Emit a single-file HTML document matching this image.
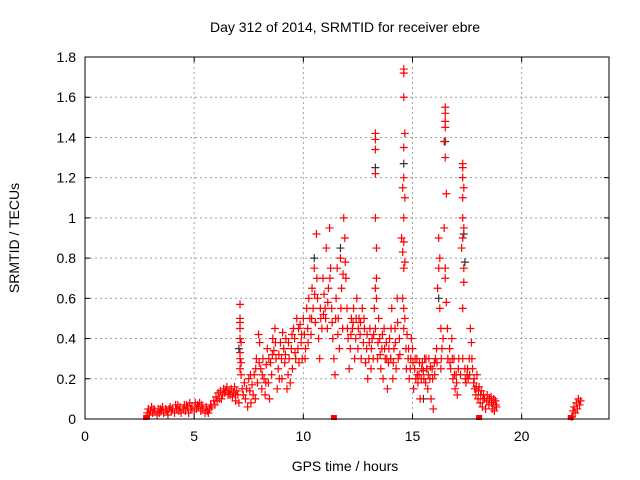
<!DOCTYPE html>
<html><head><meta charset="utf-8"><style>
html,body{margin:0;padding:0;background:#fff;}
svg{display:block;font-family:"Liberation Sans",sans-serif;}
</style></head><body>
<svg id="chart" width="640" height="480" viewBox="0 0 640 480">
<text x="345" y="32" font-size="14" text-anchor="middle" fill="#000">Day 312 of 2014, SRMTID for receiver ebre</text>
<text x="345" y="471" font-size="14" text-anchor="middle" fill="#000">GPS time / hours</text>
<text x="19" y="238" font-size="14" text-anchor="middle" fill="#000" transform="rotate(-90 19 238)">SRMTID / TECUs</text>
<g id="grid"></g><g id="marks"></g><g id="axes"></g>
</svg>
<script>
const xTicks=[0,5,10,15,20];
const yTicks=[0,0.2,0.4,0.6,0.8,1,1.2,1.4,1.6,1.8];
const redSamples=[[2.85,.03],[2.9,.05],[2.95,.02],[3.0,.04],[3.1,.03],[3.15,.05],[3.2,.04],[3.3,.02],[3.35,.05],[3.4,.03],[3.5,.04],[3.55,.06],[3.6,.03],[3.7,.05],[3.75,.04],[3.8,.02],[3.9,.06],[3.95,.04],[4.0,.05],[4.1,.03],[4.15,.07],[4.2,.05],[4.3,.04],[4.35,.06],[4.4,.03],[4.5,.05],[4.55,.07],[4.6,.04],[4.7,.06],[4.75,.03],[4.8,.08],[4.85,.05],[4.9,.06],[5.0,.04],[5.05,.08],[5.1,.05],[5.15,.07],[5.2,.06],[5.3,.04],[5.35,.07],[5.4,.05],[5.5,.03],[5.55,.06],[5.6,.04],[5.7,.05],[5.75,.07],[5.8,.06],[5.9,.09],[5.95,.07],[6.0,.11],[6.05,.09],[6.1,.13],[6.15,.1],[6.2,.14],[6.3,.12],[6.35,.15],[6.4,.13],[6.5,.16],[6.55,.12],[6.6,.14],[6.7,.15],[6.75,.11],[6.8,.13],[6.85,.16],[6.9,.09],[6.95,.14],[7.0,.12],[7.05,.08],
[7.1,.57],[7.1,.5],[7.1,.48],[7.1,.45],[7.1,.4],[7.1,.33],[7.1,.3],[7.1,.25],[7.15,.38],[7.15,.28],[7.15,.22],
[7.3,.18],[7.35,.1],[7.4,.15],[7.45,.06],[7.5,.2],[7.55,.14],[7.6,.08],[7.65,.17],[7.7,.12],[7.75,.22],[7.8,.1],[7.85,.3],[7.9,.18],[7.95,.42],[8.0,.38],[8.05,.25],[8.1,.15],[8.15,.3],[8.2,.2],[8.25,.12],[8.3,.27],[8.35,.35],[8.4,.18],[8.45,.1],[8.5,.28],[8.55,.22],[8.6,.4],[8.65,.34],[8.7,.45],[8.75,.3],[8.8,.15],[8.85,.25],[8.9,.2],[8.95,.38],[9.0,.3],[9.05,.43],[9.1,.35],[9.15,.28],[9.2,.4],[9.25,.15],[9.3,.22],[9.35,.3],[9.4,.18],[9.45,.35],[9.5,.25],[9.55,.45],[9.6,.4],[9.65,.3],[9.7,.5],[9.75,.35],[9.8,.28],[9.85,.47],[9.9,.38],[9.95,.3],[10.0,.5],[10.05,.42],[10.1,.35],[10.15,.55],[10.2,.45],[10.25,.6],[10.3,.5],[10.35,.42],[10.4,.65],[10.45,.55],[10.5,.75],[10.55,.48],[10.6,.92],[10.65,.6],[10.7,.4],[10.75,.3],[10.8,.5],[10.85,.45],[10.9,.7],[10.95,.62],[11.0,.55],[11.05,.85],[11.1,.45],[11.15,.65],[11.2,.95],[11.25,.75],[11.3,.55],[11.35,.4],[11.4,.3],[11.45,.22],[11.5,.6],[11.55,.75],[11.6,.5],[11.65,.35],[11.7,.8],[11.75,.65],[11.8,.45],[11.85,1.0],[11.9,.9],[11.95,.7],[12.0,.55],[12.05,.4],[12.1,.25],[12.15,.35],[12.2,.5],[12.25,.45],[12.3,.55],[12.35,.3],[12.4,.4],[12.45,.6],[12.5,.35],[12.55,.5],[12.6,.42],[12.65,.3],[12.7,.55],[12.75,.38],[12.8,.45],[12.85,.28],[12.9,.35],[12.95,.2],[13.0,.3],[13.05,.45],[13.1,.25],[13.15,.4],[13.2,.3],[13.25,.55],
[13.3,1.42],[13.3,1.39],[13.3,1.34],[13.3,1.22],[13.3,1.0],[13.35,.85],[13.35,.7],[13.3,.65],[13.35,.6],[13.3,.45],
[13.4,.3],[13.45,.5],[13.5,.4],[13.55,.25],[13.6,.35],[13.65,.2],[13.7,.45],[13.75,.3],[13.8,.38],[13.85,.15],[13.9,.28],[13.95,.4],[14.0,.3],[14.05,.55],[14.1,.2],[14.15,.35],[14.2,.45],[14.25,.25],[14.3,.6],[14.35,.3],[14.4,.4],
[14.6,1.74],[14.6,1.72],[14.6,1.6],[14.65,1.42],[14.6,1.35],[14.6,1.2],[14.55,1.15],[14.65,1.1],[14.6,1.0],[14.6,.88],[14.65,.78],[14.6,.75],[14.55,.6],[14.6,.55],[14.6,.45],[14.5,.9],[14.55,.83],[14.65,.5],[14.7,.35],[14.75,.42],
[14.8,.3],[14.85,.2],[14.9,.25],[14.95,.4],[15.0,.35],[15.05,.15],[15.1,.25],[15.15,.2],[15.2,.3],[15.25,.18],[15.3,.22],[15.35,.1],[15.4,.2],[15.45,.28],[15.5,.24],[15.55,.3],[15.6,.18],[15.65,.25],[15.7,.15],[15.75,.3],[15.8,.2],[15.85,.1],[15.9,.25],[15.95,.05],[16.0,.28],[16.05,.3],[16.1,.35],
[16.2,.9],[16.25,.8],[16.2,.75],[16.15,.65],[16.25,.55],[16.3,.45],[16.35,.35],[16.3,.25],
[16.5,1.55],[16.5,1.52],[16.5,1.48],[16.5,1.45],[16.45,1.38],[16.5,1.3],[16.55,1.12],[16.45,.95],[16.5,.75],[16.5,.7],[16.6,.45],[16.55,.58],
[16.7,.35],[16.75,.25],[16.8,.4],[16.85,.2],[16.9,.3],[16.95,.15],[17.0,.22],[17.05,.12],[17.1,.25],
[17.3,1.27],[17.3,1.25],[17.3,1.2],[17.35,1.15],[17.3,1.1],[17.3,1.0],[17.35,.95],[17.3,.9],[17.35,.75],[17.3,.55],[17.3,.3],[17.35,.68],[17.25,.85],
[17.4,.25],[17.45,.18],[17.5,.22],[17.55,.2],[17.6,.3],[17.65,.45],[17.7,.38],[17.75,.25],[17.8,.18],[17.85,.15],[17.9,.12],[17.95,.22],[18.0,.1],[18.05,.16],[18.1,.08],[18.15,.14],[18.2,.06],[18.25,.12],[18.3,.1],[18.35,.05],[18.4,.09],[18.5,.07],[18.6,.11],[18.65,.05],[18.7,.08],[18.75,.04],[18.8,.09],[18.85,.06],
[22.3,.01],[22.35,.04],[22.4,.06],[22.45,.03],[22.5,.08],[22.55,.05],[22.6,.1],[22.65,.07],[22.7,.09]];
const redExtra=[[3.05,.06],[3.45,.05],[3.85,.05],[4.25,.07],[4.65,.07],[5.25,.08],[5.65,.03],[6.25,.1],[6.45,.14],[6.65,.12],[6.88,.12],[7.2,.15],[7.25,.12],[7.58,.22],[7.82,.25],[7.98,.28],[8.12,.22],[8.28,.18],[8.42,.3],[8.58,.32],[8.72,.38],[8.88,.32],[9.02,.2],[9.18,.32],[9.32,.38],[9.48,.42],[9.62,.33],[9.78,.45],[9.92,.42],[10.08,.3],[10.22,.38],[10.38,.5],[10.52,.62],[10.62,.7],[10.78,.55],[10.92,.52],[11.02,.5],[11.12,.58],[11.22,.7],[11.32,.48],[11.48,.5],[11.58,.42],[11.72,.55],[11.82,.72],[11.92,.78],[12.02,.45],[12.18,.42],[12.28,.48],[12.42,.5],[12.52,.45],[12.62,.48],[12.78,.5],[12.92,.42],[13.02,.38],[13.12,.35],[13.22,.42],[13.42,.38],[13.52,.32],[13.62,.42],[13.72,.35],[13.82,.3],[13.92,.35],[14.02,.45],[14.12,.28],[14.22,.38],[14.32,.48],[14.42,.32],[14.72,.25],[14.82,.35],[14.92,.3],[15.02,.28],[15.12,.3],[15.22,.22],[15.32,.28],[15.42,.25],[15.52,.2],[15.62,.3],[15.72,.22],[15.82,.26],[15.92,.2],[16.02,.22],[16.12,.28],[16.32,.3],[16.4,.4],[16.62,.3],[16.72,.28],[16.82,.3],[16.92,.22],[17.02,.18],[17.12,.3],[17.2,.22],[17.42,.2],[17.52,.25],[17.62,.22],[17.72,.3],[17.82,.2],[17.92,.16],[18.02,.14],[18.12,.12],[18.22,.1],[18.42,.12],[18.52,.1],[18.62,.08],[18.72,.1],[18.82,.07]];
const blackSamples=[[13.3,1.25],[14.6,1.27],[16.5,1.38],[17.35,.92],[17.4,.78],[15.5,.1],[14.0,.3],[10.5,.8],[11.7,.85],[7.05,.35],[16.2,.6]];
const zeroSquares=[2.8,11.4,18.05,22.25];
const X0=85,X1=609,Y0=419,Y1=57,XMAX=24,YMAX=1.8;
const sx=h=>X0+(X1-X0)*h/XMAX;
const sy=v=>Y0-(Y0-Y1)*v/YMAX;
const NS="http://www.w3.org/2000/svg";
function mk(tag,attrs,parent){const e=document.createElementNS(NS,tag);for(const k in attrs)e.setAttribute(k,attrs[k]);parent.appendChild(e);return e;}
const grid=document.getElementById('grid'),marks=document.getElementById('marks'),axes=document.getElementById('axes');
xTicks.forEach(t=>{const x=sx(t);
 if(t>0){const g=mk('line',{x1:x,y1:Y0,x2:x,y2:Y1,stroke:'#a0a0a0','stroke-dasharray':'2,3'},grid);
 
 }
 mk('line',{x1:x,y1:Y0,x2:x,y2:Y0-5,stroke:'#000'},axes);
 mk('line',{x1:x,y1:Y1,x2:x,y2:Y1+5,stroke:'#000'},axes);
 const l=mk('text',{x:x,y:Y0+22,'font-size':14,'text-anchor':'middle',fill:'#000'},axes);l.textContent=t;
 
 
});
yTicks.forEach(t=>{const y=sy(t);
 if(t>0&&t<YMAX){const g=mk('line',{x1:X0,y1:y,x2:X1,y2:y,stroke:'#a0a0a0','stroke-dasharray':'2,3'},grid);
 
 }
 mk('line',{x1:X0,y1:y,x2:X0+5,y2:y,stroke:'#000'},axes);
 mk('line',{x1:X1,y1:y,x2:X1-5,y2:y,stroke:'#000'},axes);
 const l=mk('text',{x:X0-9,y:y+5,'font-size':14,'text-anchor':'end',fill:'#000'},axes);l.textContent=String(Math.round(t*10)/10);
 
 
});
const fr=mk('rect',{x:X0,y:Y1,width:X1-X0,height:Y0-Y1,fill:'none',stroke:'#000','stroke-width':1},axes);


function plus(h,v,col,name){const x=sx(h),y=sy(v);
 const p=mk('path',{d:`M${x-4},${y}h8M${x},${y-4}v8`,stroke:col,'stroke-width':1.2,fill:'none'},marks);
 
 
}
blackSamples.forEach(s=>plus(s[0],s[1],'#333','srmtid-point-black'));
redSamples.forEach(s=>plus(s[0],s[1],'#ff0000','srmtid-point'));
redExtra.forEach(s=>plus(s[0],s[1],'#ff0000','srmtid-point'));
zeroSquares.forEach(h=>{const r=mk('rect',{x:sx(h)-3,y:Y0-4,width:6,height:5,fill:'#ff0000'},marks);
 
 });
</script>
</body></html>
